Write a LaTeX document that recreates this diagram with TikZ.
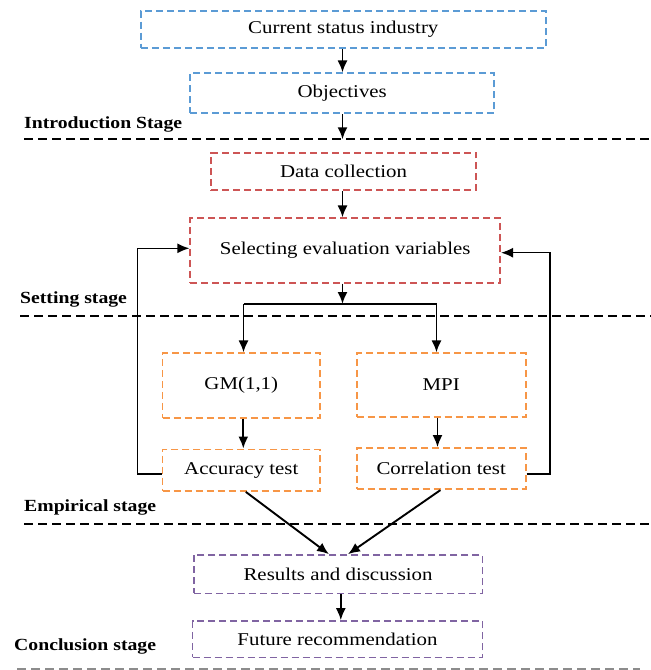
\documentclass[tikz,border=0pt]{standalone}
\usepackage{fontspec}
\setmainfont{Liberation Serif}[FakeStretch=1.16]
\usetikzlibrary{arrows.meta}
\definecolor{cblue}{RGB}{91,155,213}
\definecolor{cred}{RGB}{205,85,85}
\definecolor{corange}{RGB}{247,150,70}
\definecolor{cpurple}{RGB}{128,100,162}
\tikzset{
  box/.style={draw, line width=1.7pt, dash pattern=on 7pt off 4pt, inner sep=0pt, font=\fontsize{18}{21}\selectfont},
  bluebox/.style={box, draw=cblue},
  redbox/.style={box, draw=cred},
  orangebox/.style={box, draw=corange},
  purplebox/.style={box, draw=cpurple},
  arr/.style={line width=1.9pt, -{Latex[length=12pt,width=10pt]}},
  fb/.style={line width=1.4pt, -{Latex[length=12pt,width=10pt]}},
  stageline/.style={line width=2pt, dash pattern=on 9pt off 5pt},
  stagelabel/.style={anchor=base west, inner sep=0pt, font=\fontsize{17}{20}\selectfont\bfseries},
}
\begin{document}
\begin{tikzpicture}[x=1pt,y=-1pt]
\useasboundingbox (0,0) rectangle (651,670);
% boxes
\node[bluebox, minimum width=405pt, minimum height=37pt] (cur) at (343.3,29.2) {Current status industry};
\node[bluebox, minimum width=304pt, minimum height=40pt] (obj) at (342.2,93.3) {Objectives};
\node[redbox, minimum width=265pt, minimum height=37.6pt] (data) at (343.5,171.5) {Data collection};
\node[redbox, minimum width=310pt, minimum height=64.4pt] (sel) at (345.2,250.5) {Selecting evaluation variables};
\node[orangebox, minimum width=157.5pt, minimum height=64.4pt] (gm) at (241.3,385.5) {GM(1,1)};
\node[orangebox, minimum width=169pt, minimum height=63.4pt] (mpi) at (441.2,385) {MPI};
\node[orangebox, minimum width=157.5pt, minimum height=41.7pt] (acc) at (241.3,470.2) {Accuracy test};
\node[orangebox, minimum width=169pt, minimum height=41.3pt] (cor) at (441.2,468.6) {Correlation test};
\node[purplebox, minimum width=288.7pt, minimum height=38.3pt] (res) at (338.1,574.2) {Results and discussion};
\node[purplebox, minimum width=290pt, minimum height=36.3pt] (fut) at (337.5,639.2) {Future recommendation};
% stage labels
\node[stagelabel] (l1) at (24,128) {Introduction Stage};
\node[stagelabel] (l2) at (20,303) {Setting stage};
\node[stagelabel] (l3) at (24,511.5) {Empirical stage};
\node[stagelabel] (l4) at (14,650.5) {Conclusion stage};
% stage lines
\coordinate (s1a) at (24,139.3); \coordinate (s1b) at (651,139.3);
\coordinate (s2a) at (20,315.5); \coordinate (s2b) at (651,315.5);
\coordinate (s3a) at (24,524.3); \coordinate (s3b) at (651,524.3);
\coordinate (s4a) at (17,668.5); \coordinate (s4b) at (640,668.5);
\draw[stageline] (s1a) -- (s1b);
\draw[stageline] (s2a) -- (s2b);
\draw[stageline] (s3a) -- (s3b);
\draw[stageline, draw=black!45] (s4a) -- (s4b);
% main flow
\draw[arr] (cur.south -| 342.5,0) -- (obj.north -| 342.5,0);
\coordinate (objend) at (342.5,139.3);
\draw[arr] (obj.south -| 342.5,0) -- (objend);
\draw[arr] (data.south -| 342.5,0) -- (sel.north -| 342.5,0);
% split
\coordinate (jn) at (342.5,304);
\coordinate (jl) at (243.5,304);
\coordinate (jr) at (436.5,304);
\draw[arr] (sel.south -| 342.5,0) -- (jn);
\draw[line width=1.4pt] (jl) -- (jr);
\draw[arr] (jl) -- (gm.north -| jl);
\draw[arr] (jr) -- (mpi.north -| jr);
\draw[arr] (gm.south -| 243.3,0) -- (acc.north -| 243.3,0);
\draw[arr] (mpi.south -| 437.5,0) -- (cor.north -| 437.5,0);
% feedback
\draw[fb] (acc.west |- 0,474) -- (137.5,474) -- (137.5,248.3) -- (sel.west |- 0,248.3);
\draw[fb] (cor.east |- 0,474) -- (550,474) -- (550,252.7) -- (sel.east |- 0,252.7);
% merge
\draw[arr] (acc.south -| 245.8,0) -- (res.north -| 329,0);
\draw[arr] (cor.south -| 440.4,0) -- (res.north -| 348,0);
\draw[arr] (res.south -| 340.8,0) -- (fut.north -| 340.8,0);
\end{tikzpicture}
\end{document}
